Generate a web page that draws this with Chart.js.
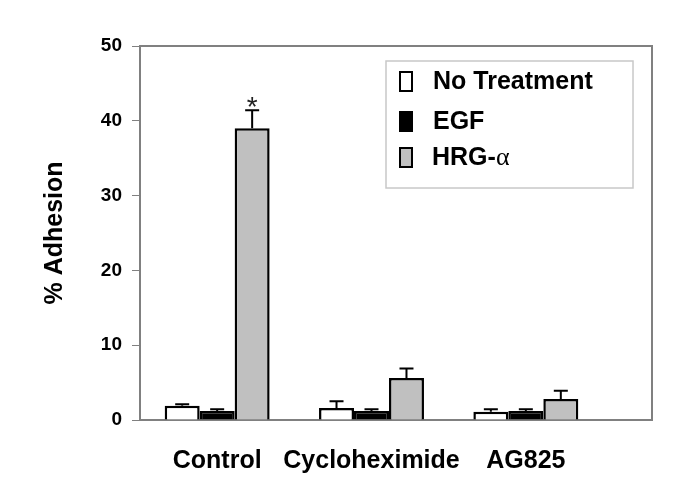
<!DOCTYPE html>
<html>
<head>
<meta charset="utf-8">
<script src="https://cdn.jsdelivr.net/npm/chart.js@4"></script>
<style>
  html, body { margin: 0; padding: 0; background: #fff; }
</style>
</head>
<body>
<canvas id="myChart" width="685" height="496"></canvas>
<script>
const categories = ['Control', 'Cycloheximide', 'AG825']
const seriesLabels = ['No Treatment', 'EGF', 'HRG-α']
const noTreatment = [1.9, 1.6, 1.1]
const noTreatmentErr = [0.2, 0.9, 0.35]
const egf = [1.2, 1.2, 1.2]
const egfErr = [0.25, 0.25, 0.25]
const hrg = [39.0, 5.6, 2.8]
const hrgErr = [2.4, 1.3, 1.1]
const yTicks = [0, 10, 20, 30, 40, 50]
// which bar gets the "*" mark: [dataset, category]
const starred = [2, 0]

const errors = [noTreatmentErr, egfErr, hrgErr]
const AXIS_GRAY = '#808080'
const FONT = "'Liberation Sans', Arial, sans-serif"

Chart.defaults.font.family = FONT
Chart.defaults.color = '#000'

// frame of the plot: the box runs past the end of the category axis
const frame = {
  id: 'frame',
  beforeDatasetsDraw(chart) {
    const { ctx, chartArea: a } = chart
    const right = a.right + 49
    ctx.save()
    ctx.strokeStyle = AXIS_GRAY
    ctx.lineWidth = 2
    ctx.beginPath()
    ctx.moveTo(a.left, a.top)
    ctx.lineTo(right, a.top)
    ctx.lineTo(right, a.bottom)
    ctx.lineTo(a.right, a.bottom)
    ctx.stroke()
    ctx.restore()
  },
}

const errorBars = {
  id: 'errorBars',
  afterDatasetsDraw(chart) {
    const { ctx } = chart
    const y = chart.scales.y
    ctx.save()
    ctx.strokeStyle = '#000'
    ctx.lineWidth = 2
    chart.data.datasets.forEach((ds, i) => {
      const meta = chart.getDatasetMeta(i)
      meta.data.forEach((bar, j) => {
        const top = y.getPixelForValue(ds.data[j] + errors[i][j])
        ctx.beginPath()
        ctx.moveTo(bar.x, bar.y)
        ctx.lineTo(bar.x, top)
        ctx.moveTo(bar.x - 7, top)
        ctx.lineTo(bar.x + 7, top)
        ctx.stroke()
        if (i === starred[0] && j === starred[1]) {
          ctx.fillStyle = '#222'
          ctx.font = '28px ' + FONT
          ctx.textAlign = 'center'
          ctx.textBaseline = 'alphabetic'
          ctx.fillText('*', bar.x, top + 6)
        }
      })
    })
    ctx.restore()
  },
}

const boxLegend = {
  id: 'boxLegend',
  afterDraw(chart) {
    const { ctx, chartArea: a } = chart
    const left = a.left + 246
    const top = a.top + 15
    ctx.save()
    ctx.fillStyle = '#fff'
    ctx.strokeStyle = '#c8c8c8'
    ctx.lineWidth = 1.5
    ctx.fillRect(left, top, 247, 127)
    ctx.strokeRect(left, top, 247, 127)
    const rows = [20, 60, 96]
    chart.data.datasets.forEach((ds, i) => {
      const cy = top + rows[i]
      ctx.fillStyle = ds.backgroundColor
      ctx.fillRect(left + 14, cy - 9, 12, 19)
      ctx.strokeStyle = '#000'
      ctx.lineWidth = 2
      ctx.strokeRect(left + 14, cy - 9, 12, 19)
      ctx.fillStyle = '#000'
      ctx.textAlign = 'left'
      ctx.textBaseline = 'middle'
      const label = ds.label
      if (label.endsWith('α')) {
        const head = label.slice(0, -1)
        ctx.font = 'bold 25px ' + FONT
        ctx.fillText(head, left + 46, cy + 1)
        const w = ctx.measureText(head).width
        ctx.font = "26px 'Liberation Serif', serif"
        ctx.fillText('α', left + 46 + w, cy + 1)
      } else {
        ctx.font = 'bold 25px ' + FONT
        ctx.fillText(label, left + 47, cy + 1)
      }
    })
    ctx.restore()
  },
}

const ctx = document.getElementById('myChart')

new Chart(ctx, {
  type: 'bar',
  data: {
    labels: categories,
    datasets: [
      { label: seriesLabels[0], data: noTreatment, backgroundColor: '#ffffff' },
      { label: seriesLabels[1], data: egf, backgroundColor: '#000000' },
      { label: seriesLabels[2], data: hrg, backgroundColor: '#c0c0c0' },
    ],
  },
  options: {
    responsive: false,
    animation: false,
    layout: {
      padding: { left: 0, top: 46, right: 82, bottom: 0 },
    },
    datasets: {
      bar: {
        borderColor: '#000',
        borderWidth: 2.5,
        categoryPercentage: 0.68,
        barPercentage: 1,
      },
    },
    plugins: {
      legend: { display: false },
      tooltip: { enabled: false },
    },
    scales: {
      x: {
        afterFit: (scale) => { scale.height = 76 },
        grid: { display: false },
        border: { display: true, color: AXIS_GRAY, width: 2 },
        ticks: {
          font: { size: 25, weight: 'bold' },
          padding: 18,
          maxRotation: 0,
          minRotation: 0,
          autoSkip: false,
        },
      },
      y: {
        min: 0,
        max: 50,
        afterFit: (scale) => { scale.width = 140 },
        afterBuildTicks: (scale) => {
          scale.ticks = yTicks.map((v) => ({ value: v }))
        },
        grid: {
          drawOnChartArea: false,
          drawTicks: true,
          tickLength: 8,
          color: AXIS_GRAY,
          lineWidth: 1,
        },
        border: { display: true, color: AXIS_GRAY, width: 2 },
        ticks: {
          font: { size: 19, weight: 'bold' },
          padding: 10,
        },
        title: {
          display: true,
          text: '% Adhesion',
          font: { size: 25, weight: 'bold' },
          padding: { top: 40, bottom: 0 },
        },
      },
    },
  },
  plugins: [frame, errorBars, boxLegend],
})
</script>
</body>
</html>
